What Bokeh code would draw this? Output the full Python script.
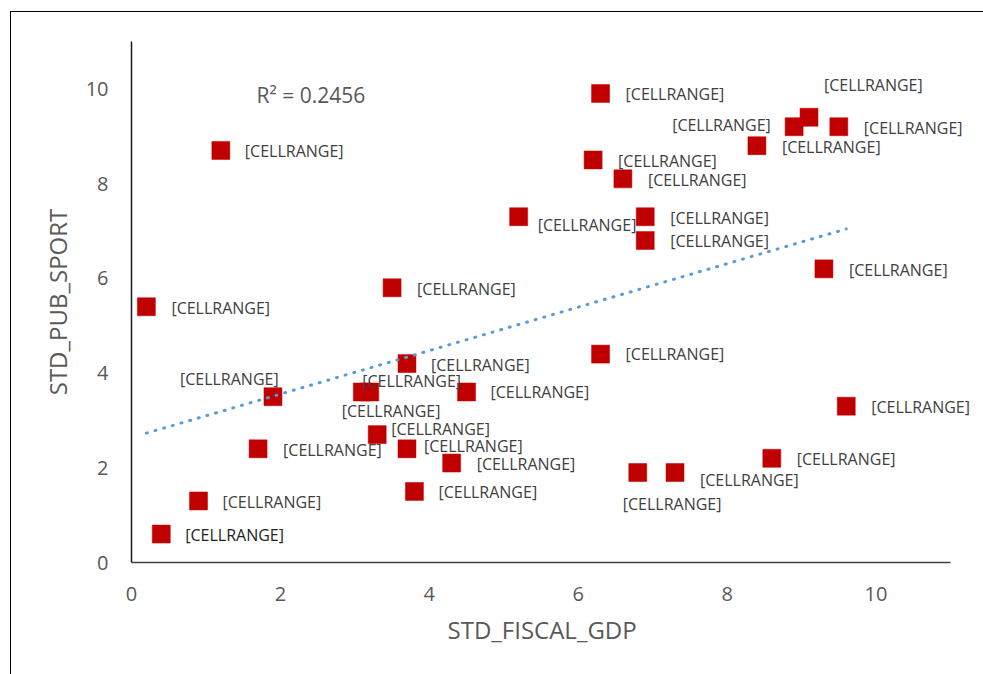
import numpy as np
from bokeh.plotting import figure
from bokeh.models import (FixedTicker, ColumnDataSource, Label, LabelSet, Range1d,
                          InlineStyleSheet, Title)
from bokeh.embed import file_html
from bokeh.resources import INLINE
from bokeh.core.properties import value

# ---- data ----
std_fiscal_gdp = [1.2, 0.2, 3.5, 3.7, 1.9, 3.1, 3.2, 4.5, 3.3, 1.7, 3.7, 4.3, 3.8, 0.9, 0.4,
                  6.3, 8.9, 9.1, 9.5, 8.4, 6.2, 6.6, 5.2, 6.9, 6.9, 9.3, 6.3, 9.6, 8.6, 6.8, 7.3]
std_pub_sport = [8.7, 5.4, 5.8, 4.2, 3.5, 3.6, 3.6, 3.6, 2.7, 2.4, 2.4, 2.1, 1.5, 1.3, 0.6,
                 9.9, 9.2, 9.4, 9.2, 8.8, 8.5, 8.1, 7.3, 7.3, 6.8, 6.2, 4.4, 3.3, 2.2, 1.9, 1.9]
point_labels = ["[CELLRANGE]"] * len(std_fiscal_gdp)
x_ticks = [0, 2, 4, 6, 8, 10]
y_ticks = [0, 2, 4, 6, 8, 10]
x_axis_max = 11
y_axis_max = 11
x_title = "STD_FISCAL_GDP"
y_title = "STD_PUB_SPORT"
r2_text = "R\u00b2 = 0.2456"

# ---- label placement (pixel offsets, style only) ----
label_dx = [24, 25, 25, 24, -93, 0, -28, 24, 14, 25, 17, 25, 24, 24, 24,
            25, -122, 15, 25, 25, 25, 25, 19, 25, 25, 25, 25, 25, 25, -15, 25]
label_dy = [-1, -1, -1, -1, 18, 11, -19, 0, 6, -1, 3, -1, -1, -1, -1,
            0, 2, 32, -1, -1, -1, -1, -8, -1, -1, -1, 0, -1, -1, -31, -7]
label_colors = ["#404040"] * len(std_fiscal_gdp)
label_colors[14] = "#222222"

FONT = "Open Sans"
GRAY = "#595959"

# plot frame runs to the right edge so that data labels are not clipped;
# the x axis line itself stops at x_axis_max (819 px wide for 11 units)
frame_w = 983 - 131
px_per_unit = 819 / x_axis_max
p = figure(width=983, height=674,
           x_range=Range1d(0, frame_w / px_per_unit), y_range=Range1d(0, y_axis_max),
           output_backend="svg", toolbar_location=None,
           min_border_left=131, min_border_right=0,
           min_border_top=41, min_border_bottom=112)
p.background_fill_color = "white"
p.border_fill_color = "white"
p.outline_line_color = None
p.xgrid.visible = False
p.ygrid.visible = False
p.xaxis.bounds = (0, x_axis_max)

for ax, ticks, standoff, lc in ((p.xaxis, x_ticks, 24, "#404040"),
                                (p.yaxis, y_ticks, 23, "#1a1a1a")):
    ax.ticker = FixedTicker(ticks=ticks)
    ax.major_tick_line_color = None
    ax.minor_tick_line_color = None
    ax.major_tick_out = 0
    ax.major_tick_in = 0
    ax.minor_tick_out = 0
    ax.major_label_text_font = FONT
    ax.major_label_text_font_size = "20px"
    ax.major_label_text_color = GRAY
    ax.major_label_standoff = standoff
    ax.axis_line_color = lc
    ax.axis_line_width = 1.5

p.yaxis.axis_label = y_title
p.yaxis.axis_label_text_font = FONT
p.yaxis.axis_label_text_font_size = "24px"
p.yaxis.axis_label_text_font_style = "normal"
p.yaxis.axis_label_text_color = GRAY
p.yaxis.axis_label_standoff = 9

# x axis title, centred under the 0..11 axis line rather than the wider frame
p.add_layout(Title(text=x_title, align="left", offset=316, standoff=14,
                   text_font=FONT, text_font_size="24px", text_font_style="normal",
                   text_color=GRAY), "below")

src = ColumnDataSource(dict(x=std_fiscal_gdp, y=std_pub_sport, lab=point_labels,
                            dx=label_dx, dy=label_dy, col=label_colors))

p.scatter("x", "y", source=src, marker="square", size=18,
          fill_color="#C00000", line_color="#C00000", line_width=0.5)

# linear trendline computed from the data
xs = np.array(std_fiscal_gdp)
ys = np.array(std_pub_sport)
slope, intercept = np.polyfit(xs, ys, 1)
tx = [xs.min(), xs.max()]
ty = [slope * v + intercept for v in tx]
p.line(tx, ty, line_color="#5B9BD5", line_width=3, line_dash="1 8", line_cap="round")

p.add_layout(LabelSet(x="x", y="y", text="lab", source=src, x_offset="dx", y_offset="dy",
                      text_font=value(FONT), text_font_size=value("16px"), text_color="col",
                      text_align="left", text_baseline="middle"))

p.add_layout(Label(x=1.68, y=9.87, text=r2_text, text_font=FONT, text_font_size="21px",
                   text_color=GRAY, text_align="left", text_baseline="middle"))

# outer chart-area border (only its top and left edges fall inside the picture)
p.stylesheets = [InlineStyleSheet(css="""
:host { position: relative; }
:host::after { content: ""; position: absolute; left: 10px; top: 11px; right: 0; bottom: 0;
  border-left: 1px solid #000; border-top: 1px solid #000; pointer-events: none; }
""")]

open("out.html", "w").write(file_html(p, INLINE))
